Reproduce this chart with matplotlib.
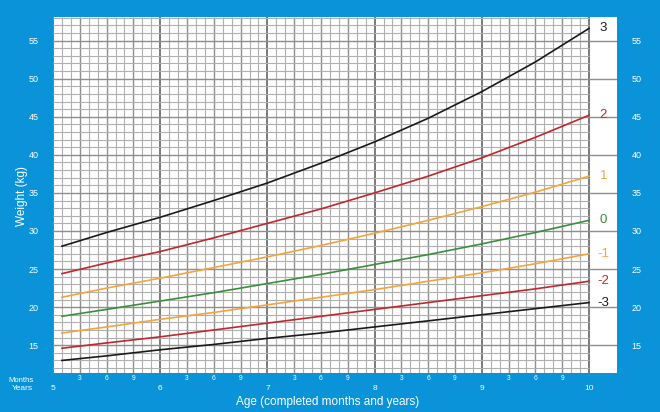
import numpy as np
import matplotlib
matplotlib.use("Agg")
import matplotlib.pyplot as plt
from matplotlib.transforms import blended_transform_factory

plt.rcParams['font.family'] = ['Liberation Sans', 'DejaVu Sans']

# data (boys weight-for-age, 5 to 10 years)
months = [61, 66, 72, 78, 84, 90, 96, 102, 108, 114, 120]
sd3 = [28.0, 29.8, 31.8, 34.0, 36.3, 38.9, 41.7, 44.8, 48.3, 52.2, 56.6]
sd2 = [24.4, 25.8, 27.3, 29.1, 31.0, 32.9, 35.0, 37.2, 39.6, 42.3, 45.2]
sd1 = [21.3, 22.5, 23.8, 25.2, 26.6, 28.1, 29.7, 31.4, 33.2, 35.1, 37.2]
sd0 = [18.8, 19.7, 20.8, 21.9, 23.1, 24.3, 25.6, 26.9, 28.3, 29.8, 31.4]
sd1neg = [16.6, 17.4, 18.4, 19.3, 20.3, 21.3, 22.3, 23.4, 24.5, 25.7, 27.0]
sd2neg = [14.6, 15.3, 16.1, 17.0, 17.9, 18.8, 19.7, 20.6, 21.5, 22.4, 23.4]
sd3neg = [13.0, 13.6, 14.4, 15.1, 15.9, 16.6, 17.4, 18.2, 19.0, 19.8, 20.6]

curve_names = ['3', '2', '1', '0', '-1', '-2', '-3']
curve_values = [sd3, sd2, sd1, sd0, sd1neg, sd2neg, sd3neg]

year_labels = ['5', '6', '7', '8', '9', '10']
month_labels = ['3', '6', '9']
weight_ticks = [15, 20, 25, 30, 35, 40, 45, 50, 55]

BLUE = '#0a93d8'
BLACK = '#1a1a1a'
RED = '#c1272d'
ORANGE = '#f4a43c'
GREEN = '#3b8f3b'
line_colors = [BLACK, RED, ORANGE, GREEN, ORANGE, RED, BLACK]

W, H = 660, 412
fig = plt.figure(figsize=(W / 100, H / 100), dpi=100, facecolor=BLUE)

x0, x1 = 53, 617
y0, y1 = 17, 373
ax = fig.add_axes([x0 / W, 1 - y1 / H, (x1 - x0) / W, (y1 - y0) / H])
ax.set_facecolor('white')
xmin, xmax = 60, 120 + (x1 - 589) / 8.933
ymin, ymax = 11.35, 58.1
ax.set_xlim(xmin, xmax)
ax.set_ylim(ymin, ymax)
for s in ax.spines.values():
    s.set_visible(False)

# grid: one line per month and per kg, darker every 3 months / 5 kg / year
for m in range(60, 121):
    if m % 12 == 0:
        c, lw = '#707070', 1.3
    elif m % 3 == 0:
        c, lw = '#8e8e8e', 1.0
    else:
        c, lw = '#b0b0b0', 0.8
    ax.vlines(m, ymin, ymax, color=c, lw=lw, zorder=1)
for kg in range(12, 59):
    if kg % 5 == 0:
        ax.hlines(kg, 60, xmax, color='#8e8e8e', lw=1.0, zorder=1)
    else:
        ax.hlines(kg, 60, 120, color='#b0b0b0', lw=0.8, zorder=1)

for name, vals, col in zip(curve_names, curve_values, line_colors):
    ax.plot(months, vals, color=col, lw=1.2, zorder=3)
    ax.text(121.6, vals[-1], name, color=col, fontsize=9.5,
            ha='center', va='center', zorder=4)

ax.set_xticks([])
ax.set_yticks(weight_ticks)
ax.set_yticklabels([str(v) for v in weight_ticks])
ax.tick_params(axis='y', left=False, right=False, labelleft=True,
               labelright=True, labelsize=6.5, labelcolor='white', pad=7)

tr = blended_transform_factory(ax.transData, fig.transFigure)
for i, lab in enumerate(year_labels):
    ax.text(60 + 12 * i, 1 - 388 / H, lab, transform=tr, color='white',
            fontsize=6, ha='center', va='center')
for yr in range(5):
    for j, lab in enumerate(month_labels):
        ax.text(60 + 12 * yr + 3 * (j + 1), 1 - 379 / H, lab, transform=tr,
                color='white', fontsize=4.8, ha='center', va='center')

fig.text(21 / W, 1 - 380 / H, 'Months', color='white', fontsize=5.5,
         ha='center', va='center')
fig.text(22 / W, 1 - 389 / H, 'Years', color='white', fontsize=6,
         ha='center', va='center')
fig.text(328 / W, 1 - 402 / H, 'Age (completed months and years)',
         color='white', fontsize=8.5, ha='center', va='center')
fig.text(22 / W, 1 - 196 / H, 'Weight (kg)', color='white', fontsize=8.5,
         ha='center', va='center', rotation=90)

fig.savefig('out.png', dpi=100, facecolor=BLUE)
